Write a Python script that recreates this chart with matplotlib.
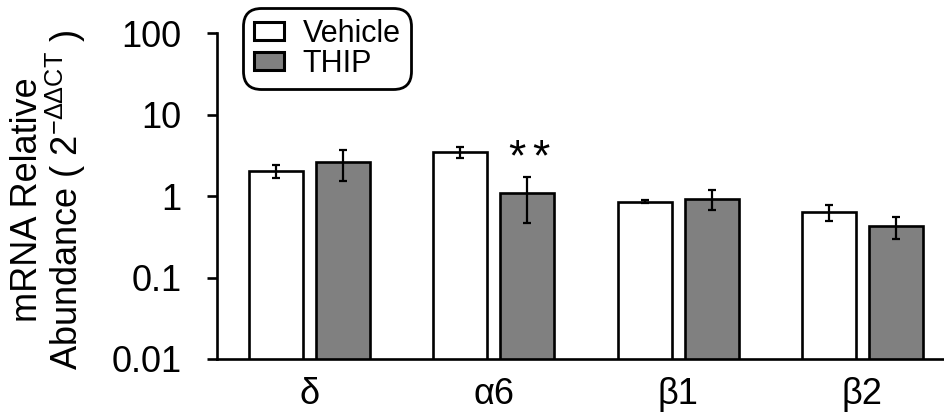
import matplotlib
matplotlib.use("Agg")
import matplotlib.pyplot as plt
import numpy as np
from matplotlib.patches import Patch
from matplotlib.ticker import FixedLocator, FixedFormatter, NullLocator

plt.rcParams['font.family'] = ['Liberation Sans', 'DejaVu Sans']
plt.rcParams['mathtext.fontset'] = 'custom'
plt.rcParams['mathtext.rm'] = 'Liberation Sans'
plt.rcParams['mathtext.it'] = 'Liberation Sans:italic'
plt.rcParams['mathtext.bf'] = 'Liberation Sans:bold'

categories = ['δ', 'α6', 'β1', 'β2']
vehicle = [2.03, 3.46, 0.85, 0.64]
vehicle_err = [0.38, 0.52, 0.04, 0.14]
thip = [2.62, 1.09, 0.93, 0.43]
thip_err = [1.1, 0.63, 0.26, 0.13]
series_names = ['Vehicle', 'THIP']
tick_values = [0.01, 0.1, 1, 10, 100]
tick_labels = ['0.01', '0.1', '1', '10', '100']
significance = {1: 2}  # category index -> number of asterisks over THIP

fig = plt.figure(figsize=(9.44, 4.19), dpi=100)
ax = fig.add_axes([0.2299, 0.1432, 0.7701, 0.778])

x = np.arange(len(categories))
w = 0.293
off = 0.182
lw = 1.9
ekw = dict(elinewidth=1.6, capthick=1.6, ecolor='black')
ax.bar(x - off, vehicle, w, yerr=vehicle_err, color='white', edgecolor='black',
       linewidth=lw, capsize=3.2, error_kw=ekw, label=series_names[0], zorder=2)
ax.bar(x + off, thip, w, yerr=thip_err, color='#808080', edgecolor='black',
       linewidth=lw, capsize=3.2, error_kw=ekw, label=series_names[1], zorder=2)

for i, n in significance.items():
    top = thip[i] + thip_err[i]
    for k in range(n):
        dx = (k - (n - 1) / 2) * 17 + 1
        ax.annotate('*', xy=(x[i] + off, top), xytext=(dx, 5), textcoords='offset points',
                    ha='center', va='baseline', fontsize=32)

ax.set_yscale('log')
ax.set_ylim(0.01, 100)
ax.set_xlim(-0.503, 3.443)
ax.yaxis.set_major_locator(FixedLocator(tick_values))
ax.yaxis.set_major_formatter(FixedFormatter(tick_labels))
ax.yaxis.set_minor_locator(NullLocator())
ax.set_xticks(x)
ax.set_xticklabels(categories)
ax.tick_params(axis='x', length=0, labelsize=26, pad=13)
ax.tick_params(axis='y', length=7.5, width=lw, labelsize=26, pad=18)

for s in ['top', 'right']:
    ax.spines[s].set_visible(False)
for s in ['left', 'bottom']:
    ax.spines[s].set_linewidth(lw)

ax.set_ylabel('mRNA Relative\nAbundance ( 2$^{-\\Delta\\Delta \\mathrm{CT}}$ )',
              fontsize=26, linespacing=0.95)
ax.yaxis.set_label_coords(-0.178, 0.49)

handles = [Patch(facecolor='white', edgecolor='black', linewidth=2.2),
           Patch(facecolor='#808080', edgecolor='black', linewidth=2.2)]
leg = fig.legend(handles, series_names, loc='upper left',
                 bbox_to_anchor=(243 / 944, 1 - 8 / 419), fontsize=22,
                 frameon=True, fancybox=True, edgecolor='black', framealpha=1,
                 handlelength=1.0, handleheight=0.5, handletextpad=0.6,
                 labelspacing=0.0, borderpad=0.35, borderaxespad=0)
leg.get_frame().set_linewidth(2.0)
leg.get_frame().set_boxstyle('round,pad=0,rounding_size=0.6')

fig.savefig('out.png', dpi=100)
